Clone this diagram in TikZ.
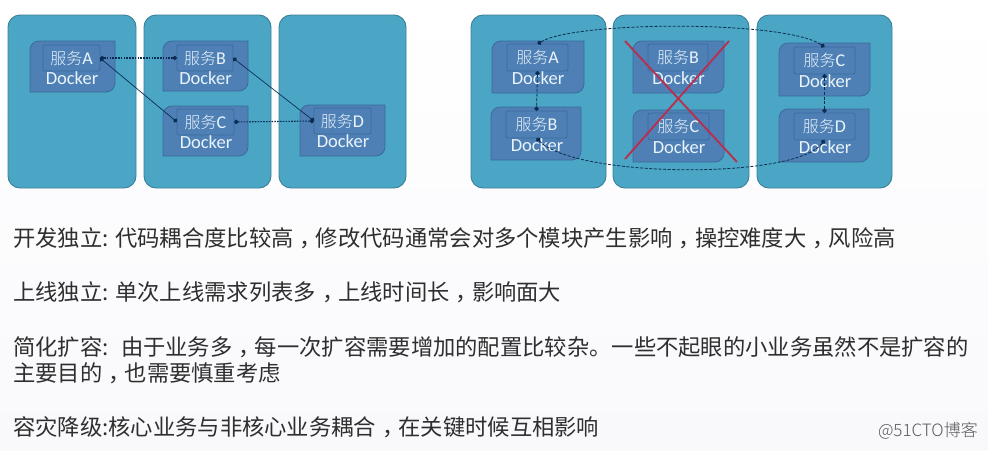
\documentclass[tikz,border=0pt]{standalone}
\usepackage{fontspec}
\setmainfont{Carlito}
\newfontfamily\cjk{Noto Sans CJK SC}
\newfontfamily\cjklight{Noto Sans CJK SC Light}
\usetikzlibrary{arrows.meta}
\definecolor{podfill}{HTML}{4AA6C4}
\definecolor{podline}{HTML}{3B8099}
\definecolor{dockfill}{HTML}{4E80B6}
\definecolor{dockline}{HTML}{3A6C9E}
\definecolor{labeltext}{HTML}{EAF4FA}
\definecolor{linkcol}{HTML}{0B2C52}
\definecolor{crosscol}{HTML}{B7304F}
\definecolor{bodytext}{HTML}{2E2E2E}
\definecolor{pagelow}{HTML}{F9F9FC}
\newcommand{\zc}{\hspace{.28em}，\hspace{-.28em}}
\tikzset{
  x=1pt,y=-1pt,
  pod/.style={draw=podline,fill=podfill,line width=0.9pt,rounded corners=12pt,outer sep=0pt,inner sep=0pt},
  dockerbg/.style={draw=dockline,fill=dockfill,line width=0.8pt},
  svcbox/.style={draw=dockline,fill=dockfill,line width=0.8pt,rounded corners=2pt,outer sep=0pt,inner sep=0pt,text=labeltext,font=\fontsize{18}{18}\selectfont},
  docklabel/.style={text=labeltext,inner sep=0pt,font=\fontsize{18.5}{18.5}\selectfont},
  linkdot/.style={draw=linkcol,line width=1.1pt,dash pattern=on 1.6pt off 1.2pt,{Circle[length=4.5pt,width=4.5pt]}-{Circle[length=4.5pt,width=4.5pt]}},
  linkdash/.style={draw=linkcol,line width=0.8pt,dash pattern=on 3pt off 1.6pt,{Circle[length=4.5pt,width=4.5pt]}-{Circle[length=4.5pt,width=4.5pt]}},
  linksolid/.style={draw=linkcol,line width=0.7pt,{Circle[length=4.5pt,width=4.5pt]}-{Circle[length=4.5pt,width=4.5pt]}},
  crossline/.style={draw=crosscol,line width=1.9pt},
  bodyline/.style={anchor=west,inner sep=0pt,text=bodytext,font=\fontsize{22.3}{24}\cjk},
  mark51/.style={anchor=east,inner sep=0pt,text=black!65,font=\fontsize{17}{17}\cjklight}
}
\newcommand{\podbox}[5]{\node[pod,minimum width={#4-#2},minimum height={#5-#3}] (#1) at ({(#2+#4)/2},{(#3+#5)/2}) {};}
\newcommand{\dockshape}[4]{\draw[dockerbg] (#1,#4) -- (#1,#2+9) .. controls (#1,#2+4) and (#1+4,#2) .. (#1+9,#2) -- (#3,#2) -- (#3,#4-9) .. controls (#3,#4-4) and (#3-4,#4) .. (#3-9,#4) -- cycle;}
\newcommand{\svc}[6]{\node[svcbox,minimum width={#4-#2},minimum height={#5-#3}] (#1) at ({(#2+#4)/2},{(#3+#5)/2}) {{\fontsize{16}{16}\cjklight 服务}#6};
  \node[docklabel] (#1d) at ({(#2+#4)/2+0.5},{#5+7.5}) {Docker};}
\begin{document}
\begin{tikzpicture}
\useasboundingbox (0,0) rectangle (988,450);
\shade[top color=white,bottom color=pagelow] (0,0) rectangle (988,450);
% left group
\podbox{p1}{8}{15}{136}{188}
\podbox{p2}{144}{15}{271}{188}
\podbox{p3}{279}{15}{406}{188}
\dockshape{30}{41}{115}{92}
\dockshape{163}{41}{248}{91}
\dockshape{163}{106}{248}{156}
\dockshape{300}{105}{385}{156}
\svc{la}{43}{45}{100}{71}{A}
\svc{lb}{177}{45}{233}{71}{B}
\svc{lc}{177}{109}{234}{135}{C}
\svc{ld}{314}{108}{371}{134}{D}
\draw[linkdot] (la.east) -- (lb.west);
\draw[linksolid] (la.east) -- (lc.west);
\draw[linksolid] (lb.east) -- (ld.west);
\draw[linkdot] (lc.east) -- (ld.west);
% right group
\podbox{q1}{471}{15}{606}{188}
\podbox{q2}{613}{15}{749}{188}
\podbox{q3}{757}{15}{892}{188}
\dockshape{492}{41}{584}{93}
\dockshape{491}{107}{581}{160}
\dockshape{633}{41}{724}{93}
\dockshape{633}{110}{724}{162}
\dockshape{779}{43}{870}{96}
\dockshape{779}{109}{869}{162}
\svc{ra}{507}{44}{568}{71}{A}
\svc{rb}{506}{111}{567}{138}{B}
\svc{mb}{648}{44}{708}{71}{B}
\svc{mc}{648}{113}{709}{140}{C}
\svc{rc}{794}{47}{855}{74}{C}
\svc{rd}{794}{113}{855}{140}{D}
\draw[linkdash] (ra.north) .. controls (575,21) and (785,20) .. (rc.north);
\draw[linkdash] (ra.south) -- (rb.north);
\draw[linkdash] (rc.south) -- (rd.north);
\draw[linkdash] (rb.south) .. controls (575,178) and (795,180) .. (rd.south);
\coordinate (x1a) at (625,41); \coordinate (x1b) at (737,162);
\coordinate (x2a) at (729,41); \coordinate (x2b) at (625,159);
\draw[crossline] (x1a) -- (x1b);
\draw[crossline] (x2a) -- (x2b);
% text
\node[bodyline] (t1) at (13,238) {开发独立: 代码耦合度比较高\zc 修改代码通常会对多个模块产生影响\zc 操控难度大\zc 风险高};
\node[bodyline] (t2) at (13,292) {上线独立: 单次上线需求列表多\zc 上线时间长\zc 影响面大};
\node[bodyline] (t3) at (13,347) {简化扩容:\ \ \hspace{2.5pt}由于业务多\zc 每一次扩容需要增加的配置比较杂。一些不起眼的小业务虽然不是扩容的};
\node[bodyline] (t4) at (13,373) {主要目的\zc 也需要慎重考虑};
\node[bodyline] (t5) at (13,427) {容灾降级:核心业务与非核心业务耦合\zc 在关键时候互相影响};
\node[mark51] (wm) at (978,431) {@51CTO博客};
\end{tikzpicture}
\end{document}
